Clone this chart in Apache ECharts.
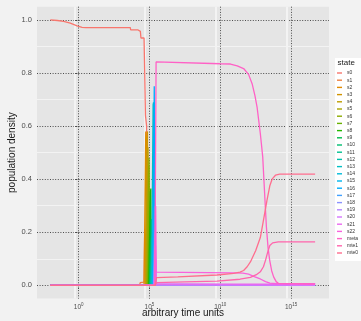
<!DOCTYPE html>
<html><head><meta charset="utf-8">
<script src="https://cdn.jsdelivr.net/npm/echarts@6/dist/echarts.min.js"></script>
<style>html,body{margin:0;padding:0;background:#f2f2f2;}#c{width:361px;height:321px;}</style>
</head><body><div id="c"></div>
<script>
// x values are log10(time)
const stateNames = ['s0','s1','s2','s3','s4','s5','s6','s7','s8','s9','s10','s11','s12','s13','s14','s15','s16','s17','s18','s19','s20','s21','s22','meta','mte1','mte0'];
const xTickExp = [0, 5, 10, 15];
const yTickValues = [0, 0.2, 0.4, 0.6, 0.8, 1.0];
const xMinorGrid = [-0.3, 4.7, 9.7, 14.7];
const yMinorGrid = [0.1, 0.3, 0.5, 0.7, 0.9];

const s0 = [[-2,1],[-1.5,0.998],[-1.06,0.995],[-0.59,0.988],[-0.11,0.978],[0.24,0.972],[0.5,0.971],[3.65,0.971],[3.67,0.963],[4.17,0.963],[4.19,0.957],[4.36,0.957],[4.4,0.932],[4.62,0.932],[4.66,0.927],[4.7,0.927],[4.72,0.64],[4.8,0.6],[4.84,0],[16.7,0]];
const s1 = [[-2,0],[4.3,0],[4.35,0.01],[4.62,0.012],[4.66,0.185],[4.72,0.185],[4.76,0.01],[4.85,0],[16.7,0]];
const s2 = [[-2,0],[4.62,0],[4.74,0.58],[4.8,0.585],[4.84,0.02],[4.9,0],[16.7,0]];
const s3 = [[-2,0],[4.7,0],[4.8,0.55],[4.86,0.58],[4.9,0.05],[4.95,0],[16.7,0]];
const s4 = [[-2,0],[4.75,0],[4.86,0.5],[4.9,0.52],[4.95,0.04],[5.0,0],[16.7,0]];
const s5 = [[-2,0],[4.8,0],[4.92,0.42],[4.96,0.45],[5.0,0.03],[5.05,0],[16.7,0]];
const s6 = [[-2,0],[4.85,0],[4.97,0.48],[5.0,0.484],[5.04,0.02],[5.1,0],[16.7,0]];
const s7 = [[-2,0],[4.9,0],[5.02,0.3],[5.05,0.32],[5.09,0.02],[5.15,0],[16.7,0]];
const s8 = [[-2,0],[4.95,0],[5.07,0.35],[5.1,0.365],[5.13,0.02],[5.18,0],[16.7,0]];
const s9 = [[-2,0],[5.0,0],[5.1,0.24],[5.13,0.25],[5.16,0.02],[5.2,0],[16.7,0]];
const s10 = [[-2,0],[5.03,0],[5.13,0.17],[5.16,0.18],[5.19,0.015],[5.23,0],[16.7,0]];
const s11 = [[-2,0],[5.07,0],[5.17,0.11],[5.2,0.12],[5.23,0.01],[5.27,0],[16.7,0]];
const s12 = [[-2,0],[5.1,0],[5.21,0.19],[5.24,0.2],[5.27,0.01],[5.3,0],[16.7,0]];
const s13 = [[-2,0],[5.15,0],[5.26,0.68],[5.29,0.69],[5.32,0.02],[5.35,0],[16.7,0]];
const s14 = [[-2,0],[5.2,0],[5.3,0.39],[5.33,0.4],[5.36,0.01],[5.39,0],[16.7,0]];
const s15 = [[-2,0],[5.22,0],[5.32,0.59],[5.35,0.6],[5.38,0.01],[5.41,0],[16.7,0]];
const s16 = [[-2,0],[5.25,0],[5.34,0.75],[5.37,0.755],[5.4,0.01],[5.43,0],[16.7,0]];
const s17 = [[-2,0],[5.28,0],[5.36,0.29],[5.39,0.3],[5.42,0.01],[5.45,0],[16.7,0]];
const s18 = [[-2,0],[5.3,0],[5.38,0.19],[5.41,0.2],[5.44,0.01],[5.47,0],[16.7,0]];
const s19 = [[-2,0],[5.32,0],[5.4,0.14],[5.43,0.15],[5.46,0.005],[5.49,0],[16.7,0]];
const s20 = [[-2,0],[5.34,0],[5.42,0.09],[5.44,0.1],[5.47,0.002],[5.5,0],[16.7,0]];
const s21 = [[-2,0],[5.36,0],[5.43,0.1],[5.46,0.1],[5.5,0.005],[16.7,0.004]];
const s22 = [[-2,0],[5.38,0],[5.44,0.3],[5.48,0.05],[5.6,0.047],[11.0,0.047],[11.6,0.046],[12.0,0.042],[12.4,0.033],[12.83,0.024],[13.2,0.014],[13.5,0.008],[14,0.006],[16.7,0.006]];
const meta = [[-2,0],[5.38,0],[5.47,0.842],[5.55,0.836],[10.0,0.835],[10.72,0.834],[11.2,0.827],[11.65,0.817],[12.0,0.795],[12.25,0.76],[12.45,0.715],[12.6,0.672],[12.83,0.572],[13.0,0.484],[13.15,0.33],[13.26,0.22],[13.38,0.14],[13.49,0.095],[13.63,0.055],[13.77,0.032],[13.95,0.014],[14.12,0.007],[16.7,0.005]];
const mte1 = [[-2,0],[5.4,0],[5.5,0.01],[7.5,0.013],[9.77,0.016],[11.4,0.023],[12.13,0.03],[12.55,0.04],[12.83,0.051],[13.05,0.07],[13.2,0.095],[13.35,0.125],[13.5,0.15],[13.7,0.16],[14.1,0.164],[16.7,0.164]];
const mte0 = [[-2,0],[5.4,0],[5.5,0.029],[7,0.032],[9.77,0.039],[10.95,0.045],[11.4,0.05],[11.65,0.056],[11.9,0.07],[12.13,0.088],[12.5,0.13],[12.83,0.18],[13.0,0.23],[13.3,0.32],[13.5,0.375],[13.66,0.40],[13.9,0.415],[14.2,0.419],[16.7,0.419]];

const seriesData = {s0,s1,s2,s3,s4,s5,s6,s7,s8,s9,s10,s11,s12,s13,s14,s15,s16,s17,s18,s19,s20,s21,s22,meta,mte1,mte0};

function hcl2hex(h, c, l) {
  const hr = h * Math.PI / 180;
  const U = c * Math.cos(hr), V = c * Math.sin(hr);
  const Y = l > 8 ? Math.pow((l + 16) / 116, 3) : l / 903.2963;
  const Xn = 0.95047, Yn = 1.0, Zn = 1.08883;
  const d = Xn + 15 * Yn + 3 * Zn;
  const un = 4 * Xn / d, vn = 9 * Yn / d;
  const u = U / (13 * l) + un, v = V / (13 * l) + vn;
  const X = 9 * Y * u / (4 * v);
  const Z = Y * (12 - 3 * u - 20 * v) / (4 * v);
  const lin = [
    3.240479 * X - 1.537150 * Y - 0.498535 * Z,
    -0.969256 * X + 1.875992 * Y + 0.041556 * Z,
    0.055648 * X - 0.204043 * Y + 1.057311 * Z
  ];
  return '#' + lin.map(t => {
    let g = t <= 0.0031308 ? 12.92 * t : 1.055 * Math.pow(t, 1 / 2.4) - 0.055;
    g = Math.max(0, Math.min(1, g));
    return Math.round(g * 255).toString(16).padStart(2, '0');
  }).join('');
}
const n = stateNames.length;
const colors = stateNames.map((_, i) => hcl2hex(15 + i * 360 / n, 100, 65));

const FONT = 'Liberation Sans, Arial, Helvetica, sans-serif';
const chart = echarts.init(document.getElementById('c'), null, {renderer: 'canvas'});
const dotted = {color: '#3a3a3a', width: 0.9, type: [1, 1.6]};

chart.setOption({
  animation: false,
  backgroundColor: '#f2f2f2',
  color: colors,
  title: {text: 'state', left: 337.5, top: 58.5, padding: 0,
    textStyle: {fontSize: 8, fontWeight: 'normal', color: '#1a1a1a', fontFamily: FONT}, z: 10},
  legend: {
    orient: 'vertical', left: 335, top: 58, padding: [12, 4, 5, 2],
    backgroundColor: '#ffffff', itemWidth: 5, itemHeight: 1.4, itemGap: 1.2, icon: 'rect',
    textStyle: {fontSize: 5, lineHeight: 6, color: '#333333', fontFamily: FONT},
    data: stateNames
  },
  grid: {left: 37, right: 32, top: 6.7, bottom: 22.4, show: true, backgroundColor: '#e5e5e5', borderWidth: 0, outerBoundsMode: 'none'},
  xAxis: [{
    type: 'value', min: -2.94, max: 17.68,
    axisLine: {show: false},
    axisTick: {show: true, length: 4, lineStyle: dotted, customValues: xTickExp},
    axisLabel: {show: true, customValues: xTickExp, margin: 4, color: '#4d4d4d', fontFamily: FONT,
      formatter: v => '{b|10}{s|' + v + '}',
      rich: {b: {fontSize: 6.5, lineHeight: 9, color: '#4d4d4d', fontFamily: FONT},
             s: {fontSize: 4.5, lineHeight: 4.5, verticalAlign: 'top', color: '#4d4d4d', fontFamily: FONT}}},
    splitLine: {show: true, lineStyle: dotted},
    name: 'arbitrary time units', nameLocation: 'middle', nameGap: 10, nameMoveOverlap: false,
    nameTextStyle: {fontSize: 10, color: '#1a1a1a', fontFamily: FONT, verticalAlign: 'top'}
  }, {
    type: 'value', min: -2.94, max: 17.68, position: 'bottom',
    axisLine: {show: false}, axisLabel: {show: false},
    axisTick: {show: false, customValues: xMinorGrid},
    splitLine: {show: true, lineStyle: {color: '#f3f3f3', width: 2}}
  }],
  yAxis: [{
    type: 'value', min: -0.05, max: 1.05,
    axisLine: {show: false},
    axisTick: {show: true, length: 4, lineStyle: dotted, customValues: yTickValues},
    axisLabel: {show: true, customValues: yTickValues, margin: 5, fontSize: 7.5, color: '#4d4d4d', fontFamily: FONT,
      formatter: v => v.toFixed(1)},
    splitLine: {show: true, lineStyle: dotted},
    name: 'population density', nameLocation: 'middle', nameGap: 20, nameMoveOverlap: false,
    nameTextStyle: {fontSize: 10, color: '#1a1a1a', fontFamily: FONT}
  }, {
    type: 'value', min: -0.05, max: 1.05, position: 'left',
    axisLine: {show: false}, axisLabel: {show: false},
    axisTick: {show: false, customValues: yMinorGrid},
    splitLine: {show: true, lineStyle: {color: '#f3f3f3', width: 1.2}}
  }],
  series: stateNames.map((name, i) => ({
    name, type: 'line', xAxisIndex: 0, yAxisIndex: 0,
    data: seriesData[name], symbol: 'none', showSymbol: false,
    lineStyle: {width: 1.3, color: colors[i]}, itemStyle: {color: colors[i]},
    emphasis: {disabled: true}, z: 3
  }))
});
</script></body></html>
